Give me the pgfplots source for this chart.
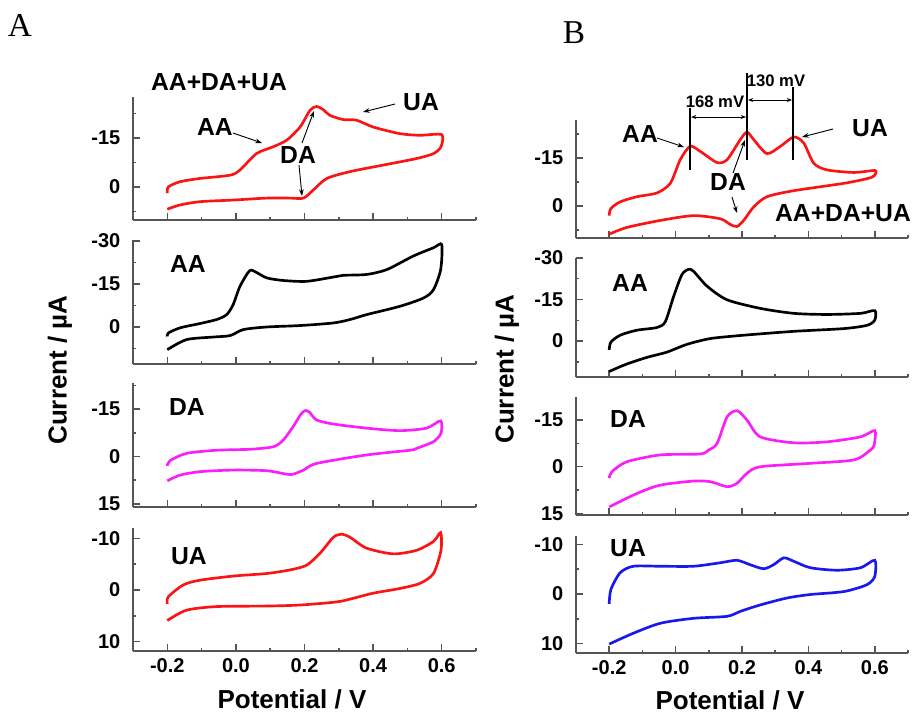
\documentclass[border=0pt]{standalone}
\usepackage{pgfplots}
\pgfplotsset{compat=1.18}
\usepackage{fontspec}
\setmainfont{Liberation Sans}
\newfontfamily\seriffont{Liberation Serif}
\usetikzlibrary{arrows.meta}
\definecolor{axgray}{RGB}{85,85,85}
\definecolor{cvred}{RGB}{250,20,20}
\definecolor{cvmag}{RGB}{250,30,250}
\definecolor{cvblue}{RGB}{25,25,235}
\pgfplotsset{
  cv/.style={
    scale only axis, anchor=south west,
    xmin=-0.3, xmax=0.7,
    axis x line*=bottom, axis y line*=left,
    axis line style={draw=axgray, line width=1.3pt, -},
    tick style={draw=axgray, line width=1.1pt},
    tick align=inside,
    major tick length=5pt, minor tick length=2.6pt,
    xtick={-0.2,0,0.2,0.4,0.6},
    minor xtick={-0.1,0.1,0.3,0.5,0.7},
    xticklabels={},
    ticklabel style={font=\bfseries\fontsize{15}{15}\selectfont},
    yticklabel style={xshift=-6pt},
    xticklabel style={yshift=-2pt},
    clip=false,
  },
  cvline/.style={line width=2pt, smooth, tension=0.45, no marks},
  bottomx/.style={xticklabels={-0.2,0.0,0.2,0.4,0.6}},
}
\begin{document}
\begin{tikzpicture}
\useasboundingbox (0,0) rectangle (689.25pt,-536.25pt);
% ---------------- Panel A ----------------
\begin{axis}[cv, at={(99.75pt,-165pt)}, width=257.25pt, height=92.25pt,
  ymin=-10.1, ymax=27.5, ytick={0,15}, yticklabels={0,-15}, minor ytick={-7.5,7.5,22.5}]
\addplot[cvline, cvred] coordinates {
(-0.200,-1.9) (-0.197,0.0) (-0.163,1.6) (-0.105,2.6) (-0.017,3.6) (0.012,5.2)
(0.060,10.2) (0.109,12.3) (0.148,14.3) (0.187,18.3) (0.216,23.4) (0.235,24.6)
(0.255,23.6) (0.274,21.9) (0.313,20.6) (0.352,20.4) (0.401,18.3) (0.478,16.3)
(0.537,15.8) (0.600,16.0) (0.598,12.3) (0.576,10.2) (0.527,8.7) (0.430,6.7)
(0.333,4.7) (0.265,2.6) (0.226,-0.9) (0.197,-3.4) (0.158,-3.4) (0.090,-3.4)
(-0.008,-4.0) (-0.105,-4.5) (-0.163,-5.5) (-0.200,-6.8)};
\end{axis}
\begin{axis}[cv, at={(99.75pt,-273pt)}, width=257.25pt, height=93pt,
  ymin=-12.9, ymax=30.3, ytick={0,15,30}, yticklabels={0,-15,-30}, minor ytick={-7.5,7.5,22.5}]
\addplot[cvline, black] coordinates {
(-0.200,-3.3) (-0.197,-2.1) (-0.163,-0.3) (-0.105,1.2) (-0.056,2.6) (-0.027,4.3)
(-0.008,7.8) (0.012,14.2) (0.040,19.6) (0.060,19.0) (0.090,17.1) (0.138,16.2)
(0.206,15.9) (0.284,17.4) (0.313,18.0) (0.381,18.3) (0.440,20.0) (0.517,24.7)
(0.576,27.6) (0.600,28.7) (0.597,20.0) (0.576,13.0) (0.547,10.1) (0.478,7.2)
(0.381,4.3) (0.333,2.6) (0.284,1.4) (0.187,0.5) (0.090,0.0) (0.022,-0.9)
(-0.017,-3.0) (-0.066,-3.5) (-0.144,-4.4) (-0.200,-7.9)};
\end{axis}
\begin{axis}[cv, at={(99.75pt,-380.25pt)}, width=257.25pt, height=93pt,
  ymin=-16, ymax=23.3, ytick={-15,0,15}, yticklabels={15,0,-15}, minor ytick={-7.5,7.5,22.5}]
\addplot[cvline, cvmag] coordinates {
(-0.200,-3.0) (-0.192,-1.3) (-0.144,1.0) (-0.056,2.0) (0.041,2.3) (0.109,3.1)
(0.138,5.2) (0.167,9.5) (0.190,13.5) (0.203,14.6) (0.215,14.0) (0.235,11.6)
(0.284,10.3) (0.381,9.0) (0.478,8.2) (0.556,9.0) (0.597,11.3) (0.598,7.4)
(0.576,4.7) (0.527,2.6) (0.508,2.0) (0.381,0.5) (0.235,-2.2) (0.197,-4.3)
(0.167,-5.6) (0.148,-5.6) (0.090,-4.5) (-0.008,-4.3) (-0.105,-4.8) (-0.163,-5.9)
(-0.200,-7.7)};
\end{axis}
\begin{axis}[cv, bottomx, at={(99.75pt,-488.25pt)}, width=257.25pt, height=92.25pt,
  ymin=-11.8, ymax=12, ytick={-10,0,10}, yticklabels={10,0,-10}, minor ytick={-5,5}]
\addplot[cvline, cvred] coordinates {
(-0.200,-2.7) (-0.197,-1.3) (-0.153,1.0) (-0.105,1.9) (-0.008,2.7) (0.090,3.2)
(0.158,3.9) (0.206,4.8) (0.245,7.1) (0.284,10.2) (0.308,10.8) (0.333,10.2)
(0.381,8.1) (0.459,7.0) (0.527,7.7) (0.576,9.4) (0.597,11.1) (0.598,7.7)
(0.576,3.2) (0.537,1.3) (0.478,0.3) (0.401,-0.6) (0.342,-1.6) (0.294,-2.3)
(0.187,-2.9) (0.090,-3.1) (-0.056,-3.2) (-0.144,-3.9) (-0.200,-5.9)};
\end{axis}
% ---------------- Panel B ----------------
\begin{axis}[cv, at={(432pt,-178.5pt)}, width=249pt, height=88.5pt,
  ymin=-10, ymax=26.9, ytick={0,15}, yticklabels={0,-15}, minor ytick={-7.5,7.5,22.5}]
\addplot[cvline, cvred] coordinates {
(-0.200,-3.0) (-0.195,-0.8) (-0.167,1.3) (-0.117,2.9) (-0.056,4.1) (-0.016,7.1)
(0.014,14.5) (0.044,18.7) (0.074,17.1) (0.125,13.6) (0.155,14.5) (0.195,20.8)
(0.215,23.1) (0.235,20.8) (0.275,16.4) (0.316,18.7) (0.356,21.6) (0.386,19.7)
(0.416,13.4) (0.456,11.3) (0.537,10.5) (0.600,11.1) (0.600,9.7) (0.582,8.7)
(0.507,7.1) (0.356,4.8) (0.275,2.9) (0.235,-0.3) (0.205,-4.5) (0.185,-6.4)
(0.165,-5.8) (0.135,-4.0) (0.054,-3.0) (-0.046,-4.5) (-0.147,-6.7) (-0.200,-8.8)};
\end{axis}
\begin{axis}[cv, at={(432pt,-282.75pt)}, width=249pt, height=89.25pt,
  ymin=-13, ymax=30, ytick={0,15,30}, yticklabels={0,-15,-30}, minor ytick={-7.5,7.5,22.5}]
\addplot[cvline, black] coordinates {
(-0.200,-3.2) (-0.195,-0.4) (-0.167,2.1) (-0.117,3.9) (-0.056,4.9) (-0.031,7.0)
(-0.006,16.1) (0.019,24.0) (0.039,25.9) (0.054,25.2) (0.095,19.8) (0.155,14.9)
(0.255,11.8) (0.356,10.0) (0.456,9.6) (0.557,10.0) (0.600,11.0) (0.600,7.6)
(0.577,5.7) (0.507,4.5) (0.356,3.5) (0.205,2.1) (0.105,0.9) (0.034,-1.2)
(-0.026,-4.0) (-0.086,-5.9) (-0.147,-8.3) (-0.200,-11.0)};
\end{axis}
\begin{axis}[cv, at={(432pt,-386.25pt)}, width=249pt, height=88.5pt,
  ymin=-15.5, ymax=22.4, ytick={-15,0,15}, yticklabels={15,0,-15}, minor ytick={-7.5,7.5,22.5}]
\addplot[cvline, cvmag] coordinates {
(-0.200,-3.7) (-0.192,-1.6) (-0.147,1.6) (-0.046,3.8) (0.074,4.1) (0.100,5.4)
(0.125,7.5) (0.155,16.0) (0.185,18.0) (0.215,15.0) (0.255,9.6) (0.356,7.7)
(0.456,8.0) (0.557,9.6) (0.600,11.6) (0.598,7.0) (0.587,5.4) (0.537,2.2)
(0.406,1.1) (0.255,0.0) (0.215,-2.1) (0.185,-5.3) (0.155,-6.4) (0.105,-4.8)
(0.054,-4.6) (-0.046,-5.9) (-0.117,-8.6) (-0.200,-12.9)};
\end{axis}
\begin{axis}[cv, bottomx, at={(432pt,-489.75pt)}, width=249pt, height=87.75pt,
  ymin=-11.9, ymax=11.7, ytick={-10,0,10}, yticklabels={10,0,-10}, minor ytick={-5,5}]
\addplot[cvline, cvblue] coordinates {
(-0.200,-2.0) (-0.195,0.9) (-0.167,4.3) (-0.127,5.6) (-0.046,5.6) (0.054,5.6)
(0.134,6.3) (0.185,6.8) (0.225,5.9) (0.265,5.1) (0.295,5.9) (0.326,7.3)
(0.356,6.6) (0.406,5.3) (0.486,4.8) (0.557,5.3) (0.600,6.8) (0.600,3.6)
(0.577,1.9) (0.507,0.5) (0.406,-0.1) (0.336,-0.8) (0.255,-2.2) (0.195,-3.5)
(0.155,-4.5) (0.054,-4.9) (-0.046,-5.9) (-0.127,-7.9) (-0.200,-10.1)};
\end{axis}
% ---------------- annotations (pixel units) ----------------
\begin{scope}[x=0.75pt, y=-0.75pt,
  ann/.style={font=\bfseries\fontsize{18.5}{18.5}\selectfont, inner sep=0pt},
  arr/.style={-{Stealth[length=5pt,width=3.5pt]}, line width=0.7pt, black},
  lab/.style={font=\bfseries\fontsize{19.5}{19.5}\selectfont, inner sep=0pt}]
\node[font=\seriffont\fontsize{25}{25}\selectfont] at (20,25) {A};
\node[font=\seriffont\fontsize{25}{25}\selectfont] at (574,33) {B};
% panel A
\node[ann] at (219,82) {AA+DA+UA};
\node[ann] at (421,102) {UA};
\draw[arr] (395,104) -- (363,112);
\node[ann] at (215,127) {AA};
\draw[arr] (233,133) -- (262,143);
\node[ann] at (298,155) {DA};
\draw[arr] (302,143) -- (314,111);
\draw[arr] (299,165) -- (302,196);
\node[ann] at (188,264) {AA};
\node[ann] at (187,407) {DA};
\node[ann] at (189,556) {UA};
% panel B
\node[ann] at (640,134) {AA};
\draw[arr] (657,138) -- (684,147);
\node[ann] at (870,128) {UA};
\draw[arr] (833,129) -- (802,137);
\node[ann] at (728,182) {DA};
\draw[arr] (733,173) -- (745,140);
\draw[arr] (732,197) -- (737,213);
\node[ann] at (843,213) {AA+DA+UA};
\node[ann] at (630,283) {AA};
\node[ann] at (628,419) {DA};
\node[ann] at (628,548) {UA};
\draw[line width=0.8pt] (690,108) -- (690,170);
\draw[line width=0.8pt] (747,73) -- (747,160);
\draw[line width=0.8pt] (793,87) -- (793,160);
\draw[{Stealth[length=4pt,width=3pt]}-{Stealth[length=4pt,width=3pt]}, line width=0.6pt] (691,117) -- (746,117);
\draw[{Stealth[length=4pt,width=3pt]}-{Stealth[length=4pt,width=3pt]}, line width=0.6pt] (748,100) -- (792,100);
\node[font=\bfseries\fontsize{12.5}{12.5}\selectfont, inner sep=0pt] at (715,102) {168 mV};
\node[font=\bfseries\fontsize{12.5}{12.5}\selectfont, inner sep=0pt] at (776,81) {130 mV};
% axis labels
\node[lab, rotate=90] at (60,370) {Current / µA};
\node[lab, rotate=90] at (507,369) {Current / µA};
\node[lab] at (292,699) {Potential / V};
\node[lab] at (730,700) {Potential / V};
\end{scope}
\end{tikzpicture}
\end{document}
